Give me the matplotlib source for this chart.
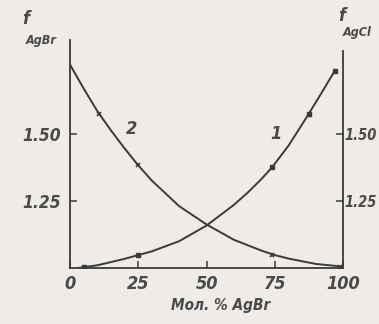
import matplotlib
matplotlib.use("Agg")
import matplotlib.pyplot as plt
from matplotlib import font_manager

# curve 2: f(AgBr)
x_agbr = [0, 5, 10, 15, 20, 25, 30, 40, 50, 60, 70, 75, 80, 90, 100]
f_agbr = [1.757, 1.668, 1.584, 1.512, 1.445, 1.382, 1.325, 1.23, 1.162, 1.105, 1.065, 1.048, 1.035, 1.015, 1.005]
x_agbr_pts = [10.5, 25, 74, 99]
f_agbr_pts = [1.575, 1.382, 1.048, 1.005]

# curve 1: f(AgCl)
x_agcl = [3, 10, 20, 25, 30, 40, 50, 60, 65, 70, 74, 80, 87.5, 92, 97]
f_agcl = [1.0, 1.01, 1.034, 1.048, 1.062, 1.10, 1.158, 1.235, 1.28, 1.33, 1.375, 1.455, 1.575, 1.65, 1.735]
x_agcl_pts = [5, 25, 74, 87.5, 97]
f_agcl_pts = [1.002, 1.048, 1.375, 1.575, 1.735]

xticks = [0, 25, 50, 75, 100]
yticks = [1.25, 1.50]

bg = "#eeebe8"
ink = "#3a3a3a"
txt = "#4a4a4a"
names = {f.name for f in font_manager.fontManager.ttflist}
font = "Liberation Sans Narrow" if "Liberation Sans Narrow" in names else "DejaVu Sans"
st = dict(fontstyle="italic", family=font, fontstretch="condensed", fontweight="bold", color=txt)

fig = plt.figure(figsize=(3.79, 3.24), dpi=100, facecolor=bg)
ax = fig.add_axes([0.185, 0.173, 0.72, 0.704])
ax.set_facecolor(bg)

ax.plot(x_agbr, f_agbr, color=ink, lw=1.4)
ax.plot(x_agbr_pts, f_agbr_pts, ls="none", marker="x", ms=3.5, mew=1.2, color=ink)
ax.plot(x_agcl, f_agcl, color=ink, lw=1.4)
ax.plot(x_agcl_pts, f_agcl_pts, ls="none", marker="s", ms=2.8, color=ink)

ax.set_xlim(0, 100)
ax.set_ylim(1.0, 1.85)
ax.spines["top"].set_visible(False)
for s in ["left", "bottom", "right"]:
    ax.spines[s].set_color(ink)
    ax.spines[s].set_linewidth(1.3)
ax.spines["right"].set_bounds(1.0, 1.81)

ax.set_xticks(xticks)
ax.set_xticklabels([str(v) for v in xticks], fontsize=13, **st)
ax.set_yticks(yticks)
ax.set_yticklabels(["%.2f" % v for v in yticks], fontsize=12.5, **st)
ax.tick_params(direction="in", length=5, width=1.1, color=ink, pad=5)
ax.tick_params(axis="y", right=True, labelright=True, pad=6)
# right-hand labels sit tight against the edge of the page
for tick in ax.yaxis.get_major_ticks():
    tick.label2.set_fontsize(10.5)
    tick.set_pad(1)
    tick.label1.set_x(-0.03)

fig.text(0.583, 0.058, "Мол. % AgBr", fontsize=11, ha="center", va="center", **st)

fig.text(0.058, 0.925, "f", fontsize=13, **st)
fig.text(0.068, 0.865, "AgBr", fontsize=9, **st)
fig.text(0.893, 0.935, "f", fontsize=13, **st)
fig.text(0.905, 0.89, "AgCl", fontsize=9, **st)
ax.text(20.5, 1.50, "2", fontsize=13, **st)
ax.text(73.5, 1.48, "1", fontsize=13, **st)

fig.savefig("out.png", dpi=100, facecolor=bg)
